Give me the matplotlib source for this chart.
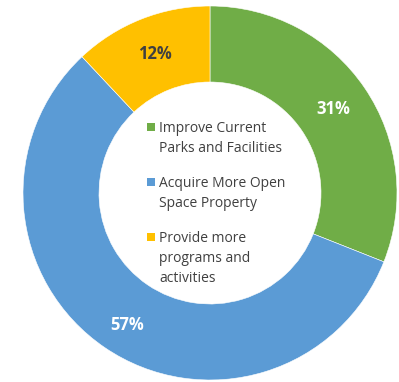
import numpy as np
import matplotlib.pyplot as plt
from matplotlib.patches import Rectangle

plt.rcParams['font.family'] = ['Open Sans', 'DejaVu Sans']

categories = ["Improve Current\nParks and Facilities",
              "Acquire More Open\nSpace Property",
              "Provide more\nprograms and\nactivities"]
shares = [31, 57, 12]
colors = ["#70AD47", "#5B9BD5", "#FFC000"]
label_colors = ["white", "white", "#404040"]

W, H = 399, 382
fig = plt.figure(figsize=(W / 100, H / 100), dpi=100)
ax = fig.add_axes([0, 0, 1, 1])

cx, cy = 210, H - 193
outer = 187
inner = 111
wedges, texts, autotexts = ax.pie(
    shares, colors=colors, startangle=90, counterclock=False,
    center=(cx, cy), radius=outer, frame=True,
    autopct='%d%%', pctdistance=(outer + inner) / 2 / outer,
    wedgeprops=dict(width=outer - inner, edgecolor='white', linewidth=0.4))
ax.set_xlim(0, W)
ax.set_ylim(0, H)
ax.set_aspect('equal')
ax.axis('off')

for t, c in zip(autotexts, label_colors):
    t.set_color(c)
    t.set_fontsize(12)
    t.set_fontweight('bold')

# the big blue label sits a little further out in the original
w = wedges[1]
mid = np.deg2rad((w.theta1 + w.theta2) / 2 + 2)
autotexts[1].set_position((cx + 156 * np.cos(mid), cy + 156 * np.sin(mid)))

# legend drawn in the hole, square lined up with the first line of each label
line_h = 20
entry_gap = 15
y = H - 121
for label, c in zip(categories, colors):
    ax.add_patch(Rectangle((147, y - 9.5), 7.5, 7.5, facecolor=c, edgecolor='none'))
    for line in label.split("\n"):
        ax.text(159, y, line, fontsize=10, color='#404040', va='top', ha='left')
        y -= line_h
    y -= entry_gap

fig.savefig('out.png', dpi=100)
